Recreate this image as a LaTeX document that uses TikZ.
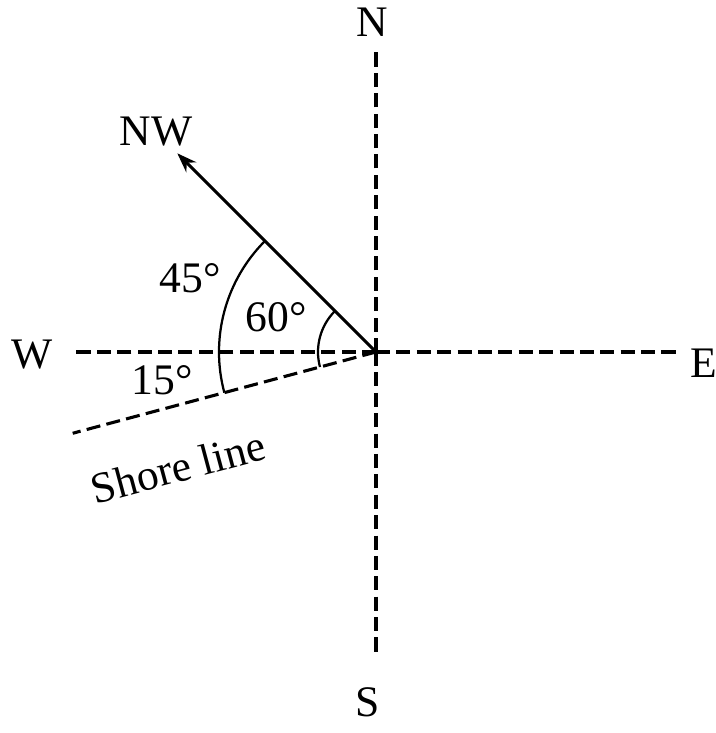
\documentclass[tikz,border=0pt]{standalone}
\usepackage{fontspec}
\setmainfont{Liberation Serif}
\usetikzlibrary{arrows.meta}

\begin{document}
\begin{tikzpicture}[x=0.025cm,y=0.025cm]
\useasboundingbox (0,0) rectangle (716,733);
\coordinate (O) at (376,381);
\coordinate (nEnd) at (376,683);
\coordinate (sEnd) at (376,76);
\coordinate (wEnd) at (72,381);
\coordinate (eEnd) at (680,381);
\coordinate (nwTip) at ([shift={(O)}]135:281);
\coordinate (shoreEnd) at ([shift={(O)}]195:314);
\begin{scope}[every node/.style={inner sep=1pt,font=\fontsize{31}{34}\selectfont}]
    \node (N) at (372,711) {N};
    \node (S) at (368,31) {S};
    \node (W) at (32,378) {W};
    \node (E) at (704,370) {E};
    \node (NW) at (156,601) {NW};
    \node (a45) at (190,455) {45°};
    \node (a60) at (276,416) {60°};
    \node (a15) at (162,353) {15°};
    \node[rotate=15] (shore) at (178,266) {Shore line};
\end{scope}
\begin{scope}[>={Stealth[black,length=14pt,width=10pt]},
              dash_line/.style={draw=black,line width=2.2pt,dash pattern=on 10pt off 4.5pt},
              arrow_line/.style={draw=black,line width=2.2pt},
              angle_arc/.style={draw=black,line width=1.6pt}]
    \path (O) edge [dash_line] (nEnd);
    \path (O) edge [dash_line] (sEnd);
    \path (O) edge [dash_line] (wEnd);
    \path (O) edge [dash_line] (eEnd);
    \path (O) edge [dash_line] (shoreEnd);
    \path [->] (O) edge [arrow_line] (nwTip);
    \draw [angle_arc] ([shift={(O)}]135:157) arc[start angle=135,end angle=180,radius=157];
    \draw [angle_arc] ([shift={(O)}]180:157) arc[start angle=180,end angle=195,radius=157];
    \draw [angle_arc] ([shift={(O)}]135:58) arc[start angle=135,end angle=195,radius=58];
\end{scope}
\end{tikzpicture}
\end{document}
